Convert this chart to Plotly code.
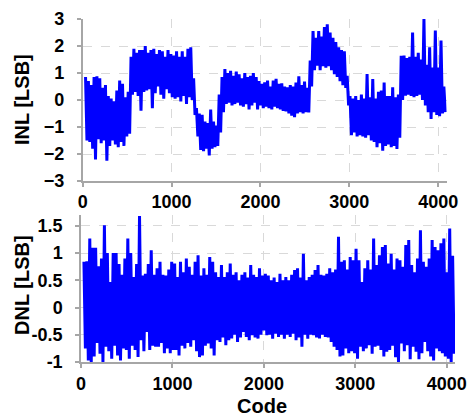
import plotly.graph_objects as go

# Codes sampled every 32 LSB codes (x categories)
step = 32

# INL envelope (upper / lower value in each 32-code bin), LSB
inl_hi = [0.85, 0.7, 0.55, 0.85, 0.88, 0.8, 0.45, 0.55, 0.15, 0.05, -0.05, 0.35, 0.72, 0.6, 0.1, 0.3,
          1.6, 1.9, 1.75, 1.85, 1.85, 2.0, 1.75, 1.85, 1.9, 1.7, 1.85, 1.8, 1.6, 1.85, 1.7, 1.65,
          1.8, 1.6, 1.8, 1.6, 1.9, 1.95, 0.8, -0.3, -0.5, -0.55, -0.8, -0.85, -0.35, -0.8, -0.95, 0.2,
          0.85, 1.15, 1.0, 1.08, 0.9, 1.05, 0.95, 0.8, 1.0, 0.85, 0.9, 1.0, 0.85, 0.7, 0.6, 0.65,
          0.72, 0.5, 0.72, 0.78, 0.6, 0.62, 0.5, 0.47, 0.55, 0.5, 0.65, 0.88, 0.55, 0.68, 0.45, 1.46,
          2.55, 2.3, 2.55, 2.35, 2.7, 2.8, 2.5, 2.3, 2.15, 1.95, 1.85, 1.8, 0.9, 0.15, 0.05, 0.15,
          0.0, 0.2, 0.05, 0.96, 0.1, 0.78, 0.05, 0.3, 0.35, 0.65, 0.15, 0.15, 0.47, 0.1, 0.2, 1.64,
          1.65, 1.55, 1.6, 2.5, 1.6, 1.75, 1.5, 3.0, 1.3, 1.95, 1.2, 2.57, 1.2, 2.2, 0.5]
inl_lo = [-1.5, -1.55, -1.8, -2.2, -1.45, -1.6, -1.5, -2.25, -1.7, -1.5, -1.65, -1.75, -1.55, -1.7, -1.35, -1.25,
          0.2, 0.3, 0.15, -0.4, 0.3, 0.35, 0.4, -0.3, 0.25, 0.5, 0.2, 0.05, 0.4, 0.25, 0.1, 0.05,
          0.1, -0.05, 0.15, -0.15, 0.1, 0.0, -0.55, -1.35, -1.85, -1.9, -1.8, -2.05, -1.8, -1.75, -1.7, -1.2,
          -0.45, -0.15, -0.1, -0.2, -0.15, -0.1, -0.2, -0.25, -0.15, -0.35, -0.2, -0.1, -0.35, -0.2, -0.3, -0.25,
          -0.3, -0.35, -0.25, -0.3, -0.35, -0.4, -0.42, -0.5, -0.58, -0.64, -0.5, -0.45, -0.5, -0.45, -0.46, 0.5,
          1.1, 1.27, 1.1, 1.25, 1.2, 1.25, 1.1, 0.96, 0.85, 0.7, 0.55, 0.45, -0.2, -1.3, -1.2, -1.35,
          -1.3, -1.35, -1.4, -1.3, -1.5, -1.55, -1.75, -1.6, -1.88, -1.7, -1.65, -1.75, -1.7, -1.81, -1.4, 0.0,
          0.16, 0.2, 0.15, 0.1, 0.15, 0.2, 0.0, -0.2, -0.45, -0.7, -0.45, -0.55, -0.6, -0.5, -0.45]

# DNL envelope (upper / lower value in each 32-code bin), LSB
dnl_hi = [0.84, 0.85, 1.27, 1.1, 1.1, 0.76, 0.9, 1.51, 1.0, 0.47, 1.0, 1.0, 0.8, 0.6, 0.9, 1.27,
          1.0, 0.56, 0.8, 1.68, 0.59, 0.62, 0.8, 1.05, 0.6, 0.72, 0.84, 0.6, 0.59, 0.7, 0.84, 0.81,
          0.56, 0.84, 0.65, 0.9, 0.75, 0.6, 0.84, 0.96, 0.59, 0.72, 0.6, 0.93, 0.84, 0.65, 0.56, 0.78,
          0.56, 0.65, 0.81, 0.6, 0.65, 0.5, 0.6, 0.65, 0.55, 0.78, 0.6, 0.56, 0.72, 0.59, 0.62, 0.59,
          0.5, 0.55, 0.47, 0.62, 0.5, 0.56, 0.5, 0.6, 0.69, 0.72, 0.55, 0.99, 0.5, 0.56, 0.6, 0.69,
          0.78, 0.6, 0.59, 0.62, 0.72, 0.65, 0.7, 1.30, 0.84, 0.87, 0.7, 0.93, 0.87, 1.08, 0.87, 0.47,
          0.72, 0.87, 0.7, 1.27, 0.78, 0.96, 1.11, 1.15, 0.81, 0.99, 0.7, 0.9, 0.87, 0.75, 1.15, 1.24,
          0.78, 0.65, 0.9, 1.42, 0.84, 0.75, 0.9, 1.24, 1.11, 1.05, 1.18, 1.27, 0.65, 1.45, 0.95]
dnl_lo = [-0.75, -0.97, -1.0, -0.9, -0.65, -0.85, -1.0, -0.72, -0.8, -0.94, -0.7, -0.88, -0.97, -0.75, -0.78, -0.94,
          -0.7, -0.78, -0.91, -0.6, -0.8, -0.45, -0.78, -0.7, -0.72, -0.72, -0.65, -0.84, -0.75, -0.84, -0.78, -0.78,
          -0.88, -0.7, -0.75, -0.65, -0.72, -0.6, -0.8, -0.91, -0.88, -0.7, -0.66, -0.75, -0.88, -0.6, -0.63, -0.55,
          -0.69, -0.6, -0.57, -0.5, -0.63, -0.55, -0.45, -0.54, -0.6, -0.51, -0.55, -0.57, -0.5, -0.42, -0.51, -0.5,
          -0.57, -0.48, -0.54, -0.5, -0.57, -0.5, -0.54, -0.48, -0.6, -0.55, -0.72, -0.5, -0.57, -0.5, -0.51, -0.55,
          -0.57, -0.5, -0.54, -0.55, -0.63, -0.72, -0.78, -0.9, -0.88, -0.75, -0.84, -0.8, -0.84, -0.94, -0.72, -0.8,
          -0.75, -0.69, -0.85, -0.72, -0.7, -0.78, -0.9, -0.81, -0.78, -0.7, -0.91, -1.0, -0.66, -0.8, -0.69, -0.95,
          -0.72, -0.81, -0.95, -0.84, -0.63, -0.8, -0.9, -0.97, -0.75, -0.8, -0.84, -0.9, -0.94, -1.0, -0.85]

x_ticks = [0, 1000, 2000, 3000, 4000]
inl_ticks = [-3, -2, -1, 0, 1, 2, 3]
dnl_ticks = [-1, -0.5, 0, 0.5, 1, 1.5]
dnl_ticktext = ["-1", "-0.5", "0", "0.5", "1", "1.5"]


def zigzag(hi, lo):
    xs, ys = [], []
    for i, (h, l) in enumerate(zip(hi, lo)):
        c = step * (i + 1)
        xs += [c, c + step / 2]
        ys += [h, l]
    return xs, ys


ix, iy = zigzag(inl_hi, inl_lo)
dx, dy = zigzag(dnl_hi, dnl_lo)

FONT = "Liberation Sans, Arial, sans-serif"
BLUE = "#0000FF"

fig = go.Figure()
fig.add_trace(go.Scatter(x=ix, y=iy, mode="lines", line=dict(color=BLUE, width=3),
                         xaxis="x", yaxis="y", showlegend=False, hoverinfo="skip"))
fig.add_trace(go.Scatter(x=dx, y=dy, mode="lines", line=dict(color=BLUE, width=3),
                         xaxis="x2", yaxis="y2", showlegend=False, hoverinfo="skip"))

tickfont = dict(family=FONT, size=18, color="#000000", weight="bold")
titlefont = dict(family=FONT, size=20, color="#000000", weight="bold")

common = dict(showline=True, linecolor="#a6a6a6", linewidth=1.5,
              ticks="outside", ticklen=4, tickcolor="#a6a6a6", tickwidth=1.5,
              showgrid=True, gridcolor="#d9d9d9", griddash="dash", gridwidth=1,
              zeroline=False, tickfont=tickfont, automargin=False)

ML, MR, MT, MB = 81, 12, 19, 54
W, H = 467, 416
PW, PH = W - ML - MR, H - MT - MB


def px_x(px):
    return (px - ML) / PW


def px_y(py):
    return (H - MB - py) / PH


fig.update_layout(
    width=W, height=H,
    margin=dict(l=ML, r=MR, t=MT, b=MB),
    paper_bgcolor="white", plot_bgcolor="white",
    xaxis=dict(domain=[px_x(82.7), px_x(446.7)], range=[0, 4096], tickvals=x_ticks,
               anchor="y", ticklabelstandoff=0, **common),
    yaxis=dict(domain=[px_y(181), 1.0], range=[-3, 3], tickvals=inl_ticks,
               anchor="x", ticklabelstandoff=9, **common),
    xaxis2=dict(domain=[0.0, 1.0], range=[0, 4090], tickvals=x_ticks,
                anchor="y2", ticklabelstandoff=1, **common),
    yaxis2=dict(domain=[0.0, px_y(215)], range=[-1, 1.7], tickvals=dnl_ticks,
                ticktext=dnl_ticktext, anchor="x2", ticklabelstandoff=9, **common),
    annotations=[
        dict(text="INL [LSB]", x=px_x(22), y=px_y(100), xref="paper", yref="paper",
             textangle=-90, showarrow=False, font=titlefont, xanchor="center", yanchor="middle"),
        dict(text="DNL [LSB]", x=px_x(22), y=px_y(285), xref="paper", yref="paper",
             textangle=-90, showarrow=False, font=titlefont, xanchor="center", yanchor="middle"),
        dict(text="Code", x=px_x(262), y=px_y(406), xref="paper", yref="paper",
             showarrow=False, font=titlefont, xanchor="center", yanchor="middle"),
    ],
)

fig.write_html("out.html", config={"displayModeBar": False},
               post_script="document.body.style.margin='0';document.body.style.overflow='hidden';")
